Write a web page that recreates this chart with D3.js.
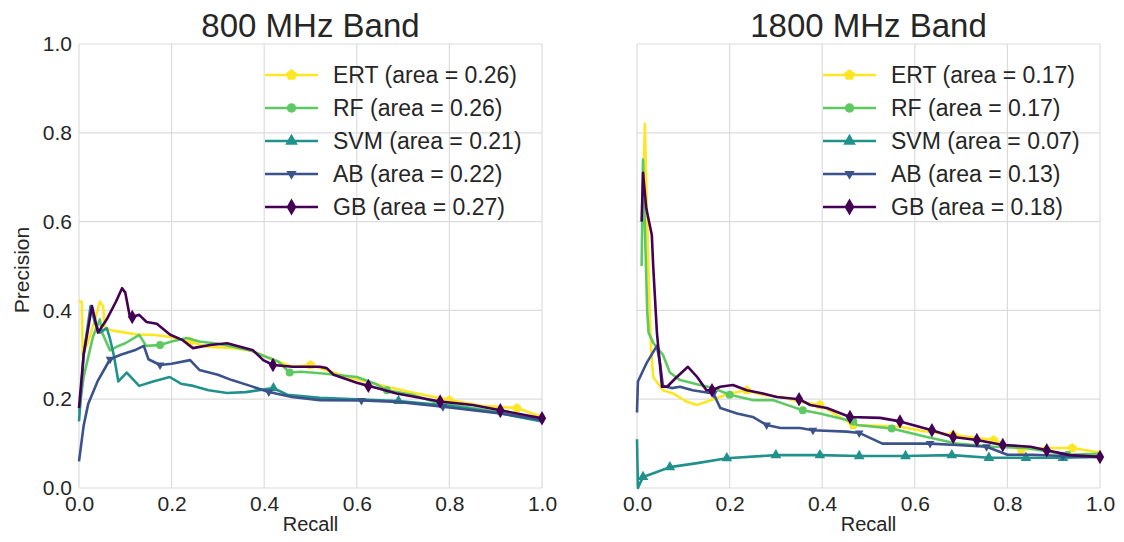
<!DOCTYPE html>
<html><head><meta charset="utf-8">
<script src="https://cdn.jsdelivr.net/npm/d3@7"></script>
<style>
body{margin:0;background:#fff;}
text{font-family:"Liberation Sans",Arial,sans-serif;fill:#262626;}
</style></head>
<body><svg id="chart" width="1124" height="542"></svg>
<script>
// ---------- DATA ----------
const panelTitles = ["800 MHz Band", "1800 MHz Band"];
const seriesNames = ["ERT", "RF", "SVM", "AB", "GB"];
const areas800 = [0.26, 0.26, 0.21, 0.22, 0.27];
const areas1800 = [0.17, 0.17, 0.07, 0.13, 0.18];
const tickValues = [0.0, 0.2, 0.4, 0.6, 0.8, 1.0];
const tickLabels = ["0.0", "0.2", "0.4", "0.6", "0.8", "1.0"];
// points: [recall, precision, markerFlag]
const ert800 = [[0,0.42],[0.006,0.42],[0.008,0.30],[0.02,0.33],[0.035,0.38],[0.045,0.42],[0.052,0.41],[0.056,0.36],[0.07,0.355],[0.1,0.35],[0.13,0.345],[0.16,0.345],[0.197,0.34],[0.24,0.33,1],[0.276,0.318],[0.333,0.315],[0.37,0.31],[0.405,0.295],[0.46,0.273],[0.5,0.277,1],[0.52,0.27],[0.58,0.25],[0.665,0.228],[0.72,0.215],[0.8,0.198,1],[0.87,0.185],[0.946,0.18,1],[1,0.16]];
const rf800 = [[0,0.17],[0.01,0.25],[0.03,0.34],[0.045,0.38],[0.05,0.35],[0.067,0.31],[0.085,0.32],[0.1,0.326],[0.13,0.345],[0.145,0.32],[0.175,0.322,1],[0.2,0.33],[0.233,0.338],[0.26,0.33],[0.3,0.325],[0.333,0.318],[0.37,0.31],[0.405,0.295],[0.43,0.285],[0.455,0.26,1],[0.48,0.262],[0.527,0.258],[0.6,0.25],[0.64,0.235],[0.665,0.22,1],[0.72,0.21],[0.78,0.19],[0.85,0.18],[0.91,0.17],[0.96,0.16],[1,0.153]];
const svm800 = [[0,0.15],[0.01,0.30],[0.025,0.41],[0.035,0.37],[0.045,0.35],[0.06,0.36],[0.066,0.34],[0.075,0.30],[0.085,0.24],[0.103,0.26],[0.13,0.23],[0.16,0.24],[0.196,0.25],[0.22,0.235],[0.247,0.23],[0.28,0.22],[0.32,0.214],[0.36,0.216],[0.42,0.225,1],[0.45,0.21],[0.52,0.203],[0.6,0.2],[0.69,0.196,1],[0.8,0.185],[0.9,0.17],[1,0.15]];
const ab800 = [[0,0.06],[0.01,0.14],[0.02,0.19],[0.04,0.24],[0.067,0.29,1],[0.09,0.3],[0.12,0.31],[0.14,0.32],[0.15,0.29],[0.175,0.277,1],[0.2,0.28],[0.24,0.288],[0.26,0.266],[0.3,0.255],[0.33,0.243],[0.37,0.23],[0.41,0.216,1],[0.46,0.205],[0.52,0.198],[0.61,0.197,1],[0.69,0.194],[0.786,0.183,1],[0.85,0.175],[0.91,0.168,1],[1,0.153]];
const gb800 = [[0,0.18],[0.01,0.3],[0.028,0.41],[0.041,0.35],[0.06,0.38],[0.08,0.42],[0.093,0.45],[0.1,0.44],[0.11,0.385],[0.115,0.385,1],[0.13,0.39],[0.146,0.374],[0.168,0.37],[0.197,0.345],[0.224,0.333],[0.246,0.315],[0.283,0.322],[0.32,0.326],[0.348,0.318],[0.376,0.31],[0.398,0.288],[0.419,0.277,1],[0.462,0.273],[0.52,0.273],[0.535,0.27],[0.55,0.255],[0.6,0.237],[0.625,0.23,1],[0.643,0.225],[0.686,0.213],[0.78,0.195,1],[0.85,0.187],[0.91,0.175,1],[1,0.157,1]];
const ert1800 = [[0.012,0.6],[0.017,0.82],[0.022,0.6],[0.026,0.45],[0.03,0.32],[0.035,0.25],[0.056,0.22],[0.078,0.213],[0.108,0.194],[0.13,0.187],[0.165,0.2],[0.2,0.213],[0.237,0.22,1],[0.27,0.21],[0.31,0.205],[0.35,0.195],[0.395,0.187,1],[0.43,0.165],[0.467,0.142,1],[0.52,0.14],[0.568,0.138],[0.62,0.128],[0.683,0.12,1],[0.72,0.115],[0.77,0.108,1],[0.8,0.095],[0.83,0.086,1],[0.88,0.09],[0.94,0.09,1],[1,0.08]];
const rf1800 = [[0.01,0.5],[0.013,0.74],[0.018,0.55],[0.022,0.4],[0.025,0.35],[0.035,0.327],[0.056,0.3],[0.071,0.26],[0.093,0.243],[0.136,0.232],[0.165,0.225],[0.2,0.21,1],[0.25,0.198],[0.293,0.198],[0.33,0.185],[0.358,0.175,1],[0.395,0.168],[0.467,0.15,1],[0.475,0.142],[0.55,0.134,1],[0.626,0.115],[0.69,0.1],[0.77,0.093],[0.84,0.09],[0.93,0.075,1],[1,0.077]];
const svm1800 = [[0,0.11],[0.002,0.0],[0.013,0.025,1],[0.04,0.035],[0.071,0.047,1],[0.13,0.056],[0.194,0.067,1],[0.3,0.074,1],[0.395,0.074,1],[0.48,0.072,1],[0.58,0.072,1],[0.68,0.074,1],[0.76,0.068,1],[0.84,0.068,1],[0.92,0.068,1],[1,0.07]];
const ab1800 = [[0,0.17],[0.002,0.24],[0.02,0.28],[0.043,0.32],[0.05,0.28],[0.056,0.23],[0.075,0.225],[0.093,0.228],[0.12,0.22],[0.165,0.213,1],[0.18,0.18],[0.216,0.168],[0.25,0.16],[0.28,0.142,1],[0.31,0.135],[0.352,0.135],[0.38,0.13,1],[0.453,0.127],[0.48,0.124,1],[0.53,0.1],[0.633,0.1,1],[0.69,0.097],[0.755,0.093,1],[0.8,0.075],[0.855,0.075],[0.92,0.072,1],[1,0.07]];
const gb1800 = [[0.01,0.6],[0.013,0.71],[0.02,0.63],[0.032,0.57],[0.035,0.5],[0.043,0.35],[0.054,0.228],[0.065,0.228],[0.086,0.25],[0.11,0.273],[0.13,0.25],[0.15,0.22],[0.162,0.22,1],[0.18,0.228],[0.207,0.232],[0.237,0.22],[0.272,0.213],[0.302,0.205],[0.35,0.2,1],[0.374,0.187],[0.41,0.18],[0.46,0.16,1],[0.525,0.158],[0.568,0.15,1],[0.637,0.13,1],[0.683,0.115,1],[0.734,0.108,1],[0.79,0.097,1],[0.85,0.093],[0.885,0.085,1],[0.935,0.074],[1,0.07,1]];

// ---------- STYLE ----------
const colors = ["#fde725", "#5ec962", "#21918c", "#3b528b", "#440154"];
const pentagon = {draw(ctx, size){const r=Math.sqrt(size/2.4);for(let i=0;i<5;i++){const a=-Math.PI/2+i*2*Math.PI/5;const x=r*Math.cos(a),y=r*Math.sin(a);i?ctx.lineTo(x,y):ctx.moveTo(x,y);}ctx.closePath();}};
const triDown = {draw(ctx,size){const r=Math.sqrt(size/1.3);ctx.moveTo(0,r*0.8);ctx.lineTo(r*0.7,-r*0.4);ctx.lineTo(-r*0.7,-r*0.4);ctx.closePath();}};
const symbols = [pentagon, d3.symbolCircle, d3.symbolTriangle, triDown, d3.symbolDiamond];
const symSize = [60, 50, 50, 50, 60];

const panels = [
  {title: panelTitles[0], areas: areas800, data: [ert800, rf800, svm800, ab800, gb800], x0: 79, x1: 542, yLabels: true},
  {title: panelTitles[1], areas: areas1800, data: [ert1800, rf1800, svm1800, ab1800, gb1800], x0: 637, x1: 1100, yLabels: false}
];
const yTop = 44, yBot = 488;
const svg = d3.select("#chart");
const fmt = d3.format(".2f");
const FONT = '"Liberation Sans",Arial,sans-serif';

panels.forEach(p => {
  const x = d3.scaleLinear().domain([0,1]).range([p.x0, p.x1]);
  const y = d3.scaleLinear().domain([0,1]).range([yBot, yTop]);
  const g = svg.append("g");
  // grid
  g.selectAll(".gx").data(tickValues).join("line")
    .attr("x1", d=>x(d)).attr("x2", d=>x(d)).attr("y1", yTop).attr("y2", yBot)
    .attr("stroke", "#dcdcdc").attr("stroke-width", 1.2);
  g.selectAll(".gy").data(tickValues).join("line")
    .attr("y1", d=>y(d)).attr("y2", d=>y(d)).attr("x1", p.x0).attr("x2", p.x1)
    .attr("stroke", "#dcdcdc").attr("stroke-width", 1.2);
  // axes (tick labels)
  const xAxis = d3.axisBottom(x).tickValues(tickValues).tickFormat((d,i)=>tickLabels[i]).tickSize(0).tickPadding(8);
  const xa = g.append("g").attr("transform", `translate(0,${yBot})`).call(xAxis);
  xa.select(".domain").remove();
  xa.selectAll("text").attr("font-size", 21).attr("fill", "#262626").style("font-family", FONT);
  if (p.yLabels) {
    const yAxis = d3.axisLeft(y).tickValues(tickValues).tickFormat((d,i)=>tickLabels[i]).tickSize(0).tickPadding(7);
    const ya = g.append("g").attr("transform", `translate(${p.x0},0)`).call(yAxis);
    ya.select(".domain").remove();
    ya.selectAll("text").attr("font-size", 21).attr("fill", "#262626").style("font-family", FONT);
    g.append("text").attr("transform", `translate(29,${(yTop+yBot)/2 + 4}) rotate(-90)`)
      .attr("text-anchor", "middle").attr("font-size", 21).text("Precision");
  }
  g.append("text").attr("x", (p.x0+p.x1)/2).attr("y", 531).attr("text-anchor", "middle")
    .attr("font-size", 20).text("Recall");
  g.append("text").attr("x", (p.x0+p.x1)/2).attr("y", 37).attr("text-anchor", "middle")
    .attr("font-size", 33).text(p.title);

  // lines
  const line = d3.line().x(d=>x(d[0])).y(d=>y(d[1]));
  p.data.forEach((ser, i) => {
    g.append("path").datum(ser).attr("d", line).attr("fill", "none")
      .attr("stroke", colors[i]).attr("stroke-width", 2.6).attr("stroke-linejoin", "round");
    g.selectAll(null).data(ser.filter(d=>d[2])).join("path")
      .attr("d", d3.symbol(symbols[i], symSize[i]))
      .attr("transform", d=>`translate(${x(d[0])},${y(d[1])})`)
      .attr("fill", colors[i]);
  });

  // legend
  const lx = p.x1 - 277, ly0 = 75, dy = 33;
  seriesNames.forEach((n, i) => {
    const ly = ly0 + i*dy;
    g.append("line").attr("x1", lx).attr("x2", lx+53).attr("y1", ly).attr("y2", ly)
      .attr("stroke", colors[i]).attr("stroke-width", 2.6);
    g.append("path").attr("d", d3.symbol(symbols[i], symSize[i]*1.4)())
      .attr("transform", `translate(${lx+26.5},${ly})`).attr("fill", colors[i]);
    g.append("text").attr("x", lx+68).attr("y", ly+8).attr("font-size", 23)
      .text(`${n} (area = ${fmt(p.areas[i])})`);
  });
});
</script></body></html>
